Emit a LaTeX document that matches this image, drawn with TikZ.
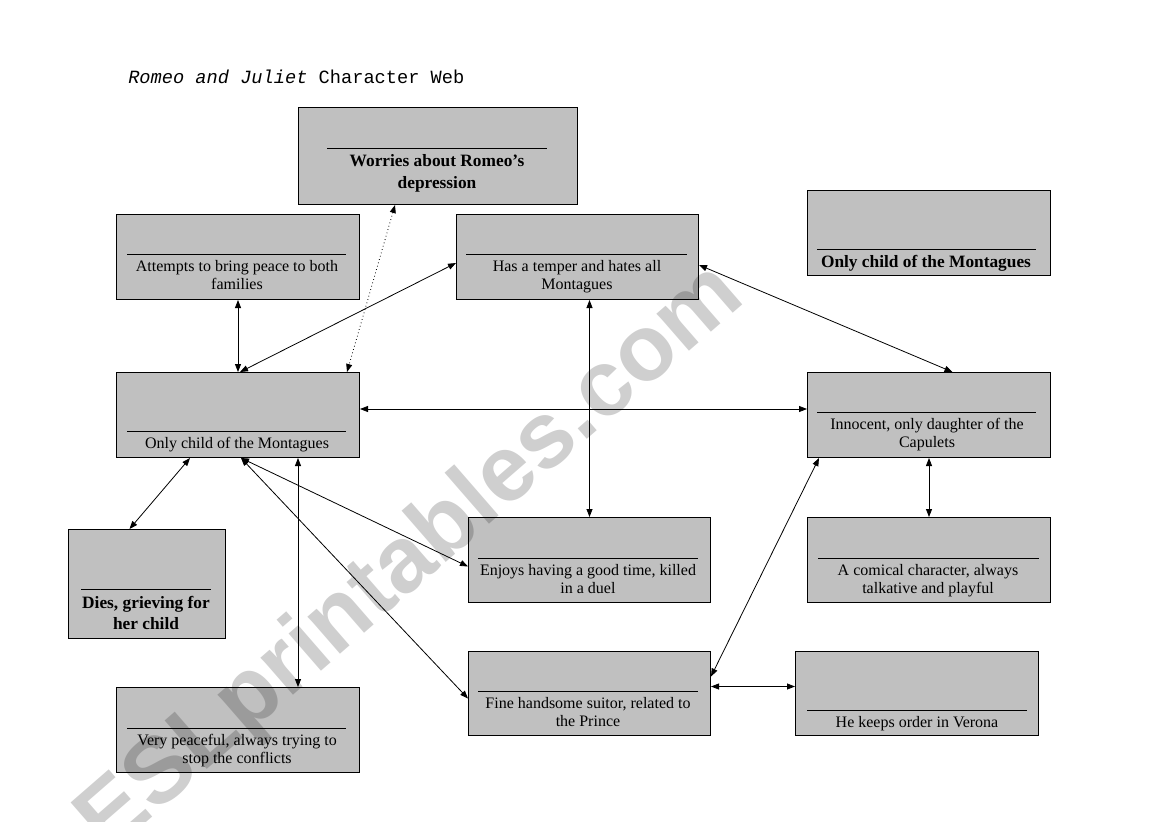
\documentclass[tikz,border=0pt]{standalone}
\usepackage{fontspec}
\setmainfont{Liberation Serif}
\newfontfamily\titlemono{Liberation Mono}
\newfontfamily\wmfont{Liberation Sans}
\usetikzlibrary{arrows.meta,calc}
\definecolor{boxgray}{HTML}{C0C0C0}
\tikzset{
  charbox/.style={draw=black, fill=boxgray, line width=0.75pt, inner sep=0pt, anchor=north west},
  rulebar/.style={line width=0.6pt},
  desc/.style={font=\fontsize{12}{13.5}\selectfont, align=center, inner sep=0pt, anchor=north},
  descb/.style={font=\fontsize{13}{16.5}\selectfont\bfseries, align=center, inner sep=0pt, anchor=north},
  link/.style={line width=0.6pt, {Triangle[length=6pt,width=4.5pt]}-{Triangle[length=6pt,width=4.5pt]}},
  dottedlink/.style={link, dotted},
  watermark/.style={font=\wmfont\bfseries\fontsize{70}{70}\selectfont, text=black, opacity=0.19, inner sep=0pt},
}
\begin{document}
\begin{tikzpicture}[x=0.75pt,y=-0.75pt]
\useasboundingbox (0,0) rectangle (1169,821);
\fill[white] (0,0) rectangle (1169,821);

% title
\node[anchor=base west, inner sep=0pt, font=\titlemono\fontsize{14}{16}\selectfont] (title) at (128,83) {\itshape Romeo and Juliet\upshape{} Character Web};

% boxes
\node[charbox, minimum width=209.25pt, minimum height=72.75pt] (worries) at (298,107) {};
\node[charbox, minimum width=182.25pt, minimum height=63.75pt] (attempts) at (116,214) {};
\node[charbox, minimum width=181.5pt, minimum height=63.75pt] (temper) at (456,214) {};
\node[charbox, minimum width=182.25pt, minimum height=63.75pt] (montague) at (807,190) {};
\node[charbox, minimum width=182.25pt, minimum height=63.75pt] (romeo) at (116,372) {};
\node[charbox, minimum width=182.25pt, minimum height=63.75pt] (juliet) at (807,372) {};
\node[charbox, minimum width=117.75pt, minimum height=81.75pt] (dies) at (68,529) {};
\node[charbox, minimum width=181.5pt, minimum height=63.75pt] (enjoys) at (468,517) {};
\node[charbox, minimum width=182.25pt, minimum height=63.75pt] (comical) at (807,517) {};
\node[charbox, minimum width=181.5pt, minimum height=63pt] (fine) at (468,651) {};
\node[charbox, minimum width=182.25pt, minimum height=63pt] (keeps) at (795,651) {};
\node[charbox, minimum width=182.25pt, minimum height=63.75pt] (peaceful) at (116,687) {};

% rules
\draw[rulebar] (327,148) -- (547,148);
\draw[rulebar] (127,254) -- (346,254);
\draw[rulebar] (466,254) -- (687,254);
\draw[rulebar] (817,249) -- (1036,249);
\draw[rulebar] (127,431) -- (346,431);
\draw[rulebar] (817,412) -- (1036,412);
\draw[rulebar] (81,589) -- (211,589);
\draw[rulebar] (478,558) -- (698,558);
\draw[rulebar] (818,558) -- (1039,558);
\draw[rulebar] (478,691) -- (698,691);
\draw[rulebar] (807,710) -- (1027,710);
\draw[rulebar] (127,728) -- (346,728);

% texts
\node[descb] (worries-t) at (437,154) {Worries about Romeo’s\\depression};
\node[desc] (attempts-t) at (237,260) {Attempts to bring peace to both\\families};
\node[desc] (temper-t) at (577,260) {Has a temper and hates all\\Montagues};
\node[descb] (montague-t) at (926,255) {Only child of the Montagues};
\node[desc] (romeo-t) at (237,437) {Only child of the Montagues};
\node[desc] (juliet-t) at (927,418) {Innocent, only daughter of the\\Capulets};
\node[descb, font=\fontsize{13}{15.75}\selectfont\bfseries] (dies-t) at (146,596) {Dies, grieving for\\her child};
\node[desc] (enjoys-t) at (588,564) {Enjoys having a good time, killed\\in a duel};
\node[desc] (comical-t) at (928,564) {A comical character, always\\talkative and playful};
\node[desc] (fine-t) at (588,697) {Fine handsome suitor, related to\\the Prince};
\node[desc] (keeps-t) at (917,716) {He keeps order in Verona};
\node[desc] (peaceful-t) at (237,734) {Very peaceful, always trying to\\stop the conflicts};

% connectors
\draw[dottedlink] ($(worries.south)+(-43,0)$) -- ($(romeo.north east)+(-13,0)$);
\draw[link] (attempts.south) -- (romeo.north);
\draw[link] ($(temper.west)+(0,6)$) -- ($(romeo.north)+(2,0)$);
\draw[link] (enjoys.north |- temper.south) -- (enjoys.north);
\draw[link] ($(temper.east)+(0,8)$) -- ($(juliet.north)+(23.5,0)$);
\draw[link] ($(romeo.east)+(0,-6)$) -- ($(juliet.west)+(0,-6)$);
\draw[link] ($(romeo.south)+(-48,0)$) -- ($(dies.north)+(-17.5,0)$);
\draw[link] ($(romeo.south)+(3,0)$) -- ($(enjoys.west)+(0,6.5)$);
\draw[link] ($(romeo.south)+(3,0)$) -- ($(fine.west)+(0,5)$);
\draw[link] ($(romeo.south)+(60,0)$) -- ($(peaceful.north)+(60,0)$);
\draw[link] ($(juliet.south west)+(12,0)$) -- ($(fine.east)+(0,-17)$);
\draw[link] (juliet.south) -- (comical.north);
\draw[link] ($(fine.east)+(0,-7)$) -- ($(keeps.west)+(0,-7)$);

% watermark
\node[watermark, rotate=41] (wm) at (412,560) {ESLprintables.com};
\end{tikzpicture}
\end{document}
